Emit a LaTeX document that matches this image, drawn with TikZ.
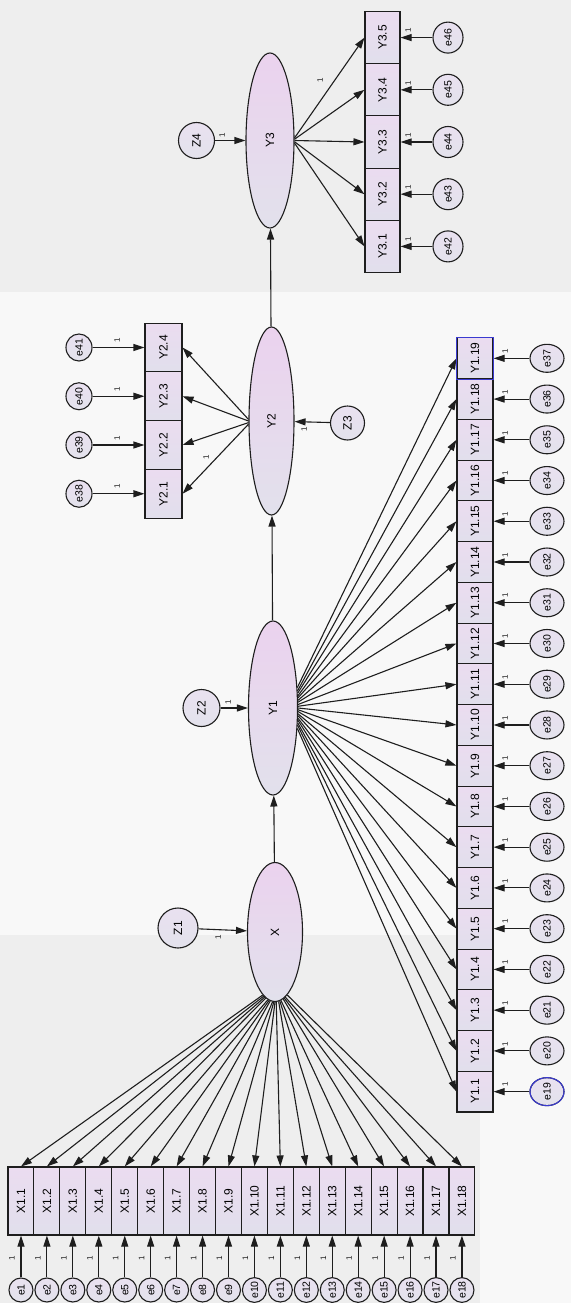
\documentclass[tikz,border=0pt]{standalone}
\usepackage{fontspec}
\setmainfont{Liberation Sans}
\usetikzlibrary{shapes.geometric,arrows.meta}
\newcommand\rtx[1]{\rotatebox{90}{#1}}
\definecolor{ln}{HTML}{1E1E1E}
\definecolor{boxtop}{HTML}{EBDCF0}
\definecolor{boxbot}{HTML}{E1DFEC}
\definecolor{lattop}{HTML}{EBD2EE}
\definecolor{latbot}{HTML}{E2E1EC}
\definecolor{errtop}{HTML}{E9E1F0}
\definecolor{errbot}{HTML}{E3E2EC}
\definecolor{bgA}{HTML}{F8F8F8}
\definecolor{bgB}{HTML}{EEEEEE}
\definecolor{selblue}{HTML}{3A3AD0}
\begin{document}
\begin{tikzpicture}[x=1pt,y=-1pt,
  arr/.style={draw=ln,line width=1.1pt,-{Triangle[length=11pt,width=7pt]}},
  obs/.style={draw=ln,line width=1.1pt,rectangle,inner sep=0pt,top color=boxtop,bottom color=boxbot,font=\fontsize{12}{13}\selectfont},
  lat/.style={draw=ln,line width=1.1pt,ellipse,inner sep=0pt,top color=lattop,bottom color=latbot,font=\fontsize{12}{13}\selectfont},
  err/.style={draw=ln,line width=1.1pt,ellipse,inner sep=0pt,top color=errtop,bottom color=errbot,font=\fontsize{10.5}{11}\selectfont},
  dist/.style={err,font=\fontsize{12}{13}\selectfont},
  one/.style={inner sep=0pt,font=\fontsize{8}{8}\selectfont,text=ln}
]
\useasboundingbox (0,0) rectangle (571,1303);
\fill[bgA] (0,0) rectangle (571,1303);
\fill[bgB] (0,0) rectangle (571,292);
\fill[bgB] (0,935) rectangle (480,1303);

% latent variables
\node[lat,minimum width=55pt,minimum height=139pt] (X) at (275,932) {\rtx{X}};
\node[lat,minimum width=49pt,minimum height=174pt] (Y1) at (273,708) {\rtx{Y1}};
\node[lat,minimum width=45pt,minimum height=188pt] (Y2) at (271.5,421) {\rtx{Y2}};
\node[lat,minimum width=48pt,minimum height=175pt] (Y3) at (270,140.5) {\rtx{Y3}};

% disturbances
\node[dist,minimum width=40pt,minimum height=40pt] (Z1) at (178,928) {\rtx{Z1}};
\node[dist,minimum width=37pt,minimum height=37pt] (Z2) at (201.5,708) {\rtx{Z2}};
\node[dist,minimum width=34pt,minimum height=34pt] (Z3) at (347.5,423) {\rtx{Z3}};
\node[dist,minimum width=36pt,minimum height=36pt] (Z4) at (196.5,140.5) {\rtx{Z4}};
\draw[arr] (Z1) -- (X);
\draw[arr] (Z2) -- (Y1);
\draw[arr] (Z3) -- (Y2);
\draw[arr] (Z4) -- (Y3);
\node[one] (lz1) at (218,937) {\rtx{1}};
\node[one] (lz2) at (228,702) {\rtx{1}};
\node[one] (lz3) at (304,429) {\rtx{1}};
\node[one] (lz4) at (222,135) {\rtx{1}};

% structural paths
\draw[arr] (X) -- (Y1);
\draw[arr] (Y1) -- (Y2);
\draw[arr] (Y2) -- (Y3);

% X indicators
\foreach \i in {1,...,18}{
  \pgfmathsetmacro\xx{20.97+25.94*(\i-1)}
  \pgfmathsetmacro\ang{259+22*(\i-1)/17}
  \node[obs,minimum width=25.94pt,minimum height=68pt] (x\i) at (\xx,1201) {\rtx{X1.\i}};
  \node[err,minimum width=24pt,minimum height=24pt] (e\i) at (\xx,1290) {\rtx{e\i}};
  \draw[arr] (e\i) -- (x\i);
  \node[one] (lx\i) at (\xx-9,1258) {\rtx{1}};
  \draw[arr] (X.\ang) -- (x\i.north);
}

% Y1 indicators
\foreach \k in {1,...,19}{
  \pgfmathsetmacro\yy{1112-40.74*(\k-0.5)}
  \pgfmathsetmacro\ang{-40+80*(\k-1)/18}
  \pgfmathtruncatemacro\en{18+\k}
  \node[obs,minimum width=36pt,minimum height=40.74pt] (ya\k) at (475,\yy) {\rtx{Y1.\k}};
  \node[err,minimum width=34pt,minimum height=28pt] (e\en) at (547,\yy) {\rtx{e\en}};
  \draw[arr] (e\en) -- (ya\k);
  \node[one] (lya\k) at (505,\yy-7) {\rtx{1}};
  \draw[arr] (Y1.\ang) -- (ya\k.west);
}
\draw[selblue,line width=1.1pt] (ya19.south west) rectangle (ya19.north east);
\draw[selblue,line width=1.1pt] (e19) ellipse (17pt and 14pt);

% Y2 indicators
\foreach \k/\yy/\en/\ang in {1/493.75/38/188,2/445/39/184,3/396.25/40/180,4/347.5/41/176}{
  \node[obs,minimum width=37pt,minimum height=48.75pt] (yb\k) at (163.5,\yy) {\rtx{Y2.\k}};
  \node[err,minimum width=26pt,minimum height=27pt] (e\en) at (79,\yy) {\rtx{e\en}};
  \draw[arr] (e\en) -- (yb\k);
  \node[one] (lyb\k) at (117,\yy-7) {\rtx{1}};
  \draw[arr] (Y2.\ang) -- (yb\k.east);
}
\node[one] (lyb) at (206,457) {\rtx{1}};

% Y3 indicators
\foreach \k/\yy/\en/\ang in {1/246.4/42/-6,2/194.2/43/-3,3/142/44/0,4/89.8/45/3,5/37.6/46/6}{
  \node[obs,minimum width=35pt,minimum height=52.2pt] (yc\k) at (382.5,\yy) {\rtx{Y3.\k}};
  \node[err,minimum width=30pt,minimum height=31pt] (e\en) at (448,\yy) {\rtx{e\en}};
  \draw[arr] (e\en) -- (yc\k);
  \node[one] (lyc\k) at (408,\yy-7) {\rtx{1}};
  \draw[arr] (Y3.\ang) -- (yc\k.west);
}
\node[one] (lyc) at (320,80) {\rtx{1}};
\end{tikzpicture}
\end{document}
